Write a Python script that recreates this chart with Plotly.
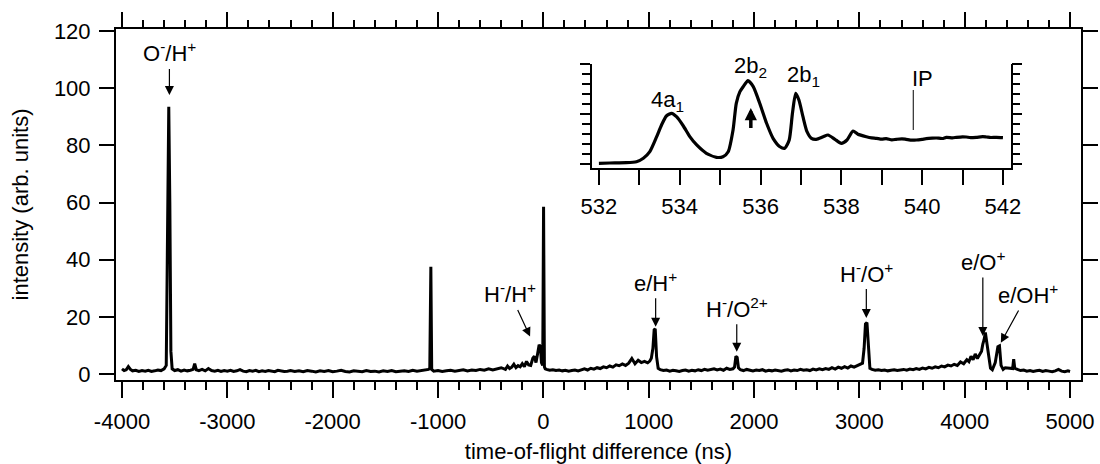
import plotly.graph_objects as go

# ---------------- main spectrum (time-of-flight difference, ns) ----------------
tof_ns = [
    -4000, -3980, -3960, -3940, -3920, -3900, -3870, -3840, -3810, -3780, -3750, -3720, -3690, -3660, -3630, -3600,
    -3580, -3568, -3556, -3546, -3536, -3524,
    -3500, -3470, -3440, -3410, -3380, -3350, -3325, -3310, -3295, -3270, -3240, -3210, -3180, -3150, -3120, -3090,
    -3060, -3030, -3000,
    -2970, -2940, -2910, -2880, -2850, -2820, -2790, -2760, -2730, -2700, -2670, -2640, -2610, -2580, -2550, -2520,
    -2490, -2460, -2430, -2400,
    -2360, -2320, -2280, -2240, -2200, -2160, -2120, -2080, -2040, -2000, -1960, -1920, -1880, -1840, -1800, -1760,
    -1720, -1680, -1640, -1600, -1560, -1520, -1480, -1440, -1400, -1360, -1320, -1280, -1240, -1200, -1160, -1120,
    -1090, -1078, -1068, -1060,
    -1040, -1000, -960, -920, -880, -840, -800, -760, -720, -680, -640, -600, -560, -520, -480, -440, -400, -360,
    -340, -320, -300, -280, -260, -240, -220, -200, -180, -160, -140, -120, -100, -85, -70, -55, -40, -28, -18, -6,
    2, 10, 18,
    30, 60, 90, 120, 150, 180, 210, 240, 270, 300, 330, 360, 390, 420, 450, 480, 510, 540, 570, 600, 630, 660, 690,
    720, 750, 780, 810, 840, 870, 900, 930, 960, 990, 1010, 1025,
    1040, 1052, 1062, 1075, 1090,
    1110, 1140, 1170, 1200, 1230, 1260, 1290, 1320, 1350, 1380, 1410, 1440, 1470, 1500, 1530, 1560, 1590, 1620, 1650,
    1680, 1710, 1740, 1770, 1800, 1815,
    1828, 1840, 1852,
    1870, 1900, 1930, 1960, 1990, 2020, 2050, 2080, 2110, 2140, 2170, 2200, 2230, 2260, 2290, 2320, 2350, 2380, 2410,
    2440, 2470, 2500, 2530, 2560, 2590, 2620, 2650, 2680, 2710, 2740, 2770, 2800, 2830, 2860, 2890, 2920, 2950, 2980,
    3010, 3030,
    3045, 3058, 3072, 3085, 3100,
    3120, 3150, 3180, 3210, 3240, 3270, 3300, 3330, 3360, 3390, 3420, 3450, 3480, 3510, 3540, 3570, 3600, 3630, 3660,
    3690, 3720, 3750, 3780, 3810, 3840, 3870, 3900, 3930, 3960, 3990, 4020, 4040, 4060, 4080, 4100, 4120, 4140, 4160,
    4172,
    4184, 4196, 4210, 4230, 4245, 4262, 4290, 4315, 4330, 4345, 4365, 4385, 4410, 4440, 4455, 4465, 4475,
    4500, 4530, 4560, 4590, 4620, 4650, 4680, 4710, 4740, 4770, 4800, 4830, 4860, 4890, 4920, 4950, 4980, 5000,
]
intensity = [
    1.8, 1.2, 1.5, 2.6, 1.6, 1.1, 1.3, 0.9, 1.2, 1.0, 1.3, 0.9, 1.1, 1.4, 1.2, 1.8,
    3.0, 45.0, 93.5, 60.0, 8.0, 1.8,
    1.2, 1.5, 1.0, 1.4, 1.1, 1.3, 1.6, 3.6, 1.5, 1.2, 1.6, 1.1, 1.9, 1.2, 1.0, 1.3,
    0.9, 1.2, 1.0,
    1.3, 0.9, 1.1, 1.5, 1.0, 0.8, 1.2, 1.0, 1.3, 0.8, 1.1, 0.9, 1.2, 1.0, 0.8, 1.3,
    1.1, 0.9, 1.0, 1.2,
    0.9, 1.1, 0.8, 1.2, 1.0, 0.7, 1.1, 0.9, 1.2, 0.8, 1.0, 1.3, 0.9, 0.7, 1.1, 1.0,
    0.8, 1.2, 0.9, 1.0, 0.7, 1.1, 0.9, 1.2, 0.8, 1.0, 1.1, 0.9, 1.3, 1.0, 1.2, 1.4,
    1.6, 2.0, 37.5, 1.6,
    1.0, 1.2, 0.9, 1.1, 1.3, 1.0, 1.2, 1.5, 1.1, 1.4, 1.2, 1.6, 1.3, 1.8, 1.4, 1.7, 2.2, 1.6,
    2.8, 1.9, 2.4, 3.4, 2.2, 2.9, 2.5, 3.6, 2.6, 4.4, 3.2, 3.0, 5.5, 6.2, 4.0, 7.0, 10.2, 9.5, 4.0, 3.0,
    58.5, 2.5, 1.8,
    1.6, 1.3, 1.5, 1.2, 1.4, 1.1, 1.3, 1.0, 1.2, 1.4, 1.1, 1.5, 1.8, 1.4, 2.0, 1.7, 2.2, 1.9, 2.5, 2.2, 2.8, 2.4, 3.2,
    2.9, 3.5, 3.0, 3.8, 5.4, 3.6, 4.8, 4.0, 4.4, 3.9, 4.5, 5.5,
    9.0, 15.5, 15.8, 6.0, 2.0,
    1.5, 1.2, 1.4, 1.0, 1.3, 1.1, 0.9, 1.2, 1.4, 1.0, 1.3, 1.1, 1.5, 1.2, 1.6, 1.3, 1.5, 1.8, 1.4,
    1.7, 1.3, 2.0, 1.6, 1.8, 2.4,
    6.2, 5.8, 2.2,
    1.5, 1.2, 1.6, 1.3, 1.1, 1.4, 1.2, 1.5, 1.0, 1.3, 1.1, 1.4, 1.2, 1.0, 1.3, 1.5, 1.1, 1.4, 1.2,
    1.6, 1.3, 1.5, 1.2, 1.7, 1.4, 1.8, 1.5, 1.9, 1.6, 2.2, 1.7, 2.4, 2.0, 2.6, 2.1, 2.8, 2.4, 2.9,
    3.3, 3.8,
    9.0, 17.5, 18.0, 9.0, 2.0,
    1.6, 1.3, 1.5, 1.2, 1.4, 1.1, 1.3, 1.5, 1.2, 1.4, 1.6, 1.3, 1.7, 1.5, 1.9, 1.6, 2.1, 1.8, 2.3,
    2.0, 2.5, 2.2, 2.8, 2.5, 3.1, 2.8, 3.4, 3.0, 4.2, 3.6, 5.0, 4.3, 6.2, 5.0, 7.0, 5.4, 6.5, 8.0,
    10.5,
    12.0, 14.5, 11.0, 4.5, 2.0, 1.5, 4.0, 9.5, 9.8, 3.0, 1.6, 2.2, 2.0, 1.8, 1.9, 5.2, 2.0,
    1.6, 1.2, 1.4, 1.0, 1.2, 0.9, 1.1, 1.3, 0.9, 1.2, 1.0, 0.8, 1.1, 1.6, 1.0, 0.8, 1.1, 0.9,
]

# ---------------- inset spectrum (photon energy, eV) ----------------
energy_eV = [
    532.0, 532.27, 532.68, 532.93, 533.1, 533.26, 533.43, 533.55, 533.67, 533.8, 533.92, 534.09, 534.25, 534.42,
    534.66, 534.91, 535.07, 535.2, 535.32, 535.4, 535.49, 535.57, 535.69, 535.82, 535.98, 536.15, 536.31, 536.48,
    536.6, 536.71, 536.79, 536.87, 536.95, 537.05, 537.15, 537.26, 537.38, 537.55, 537.67, 537.84, 538.0, 538.14,
    538.29, 538.41, 538.62, 538.75, 538.87, 539.0, 539.11, 539.25, 539.36, 539.5, 539.6, 539.75, 539.86, 540.0,
    540.1, 540.25, 540.35, 540.5, 540.6, 540.75, 540.85, 541.0, 541.09, 541.2, 541.34, 541.5, 541.59, 541.7,
    541.84, 542.0,
]
yield_au = [
    0.07, 0.10, 0.13, 0.23, 0.57, 1.23, 2.73, 3.90, 4.80, 5.07, 4.73, 3.80, 2.73, 1.90,
    1.07, 0.67, 0.73, 1.23, 3.40, 6.07, 7.23, 7.73, 8.33, 7.73, 6.07, 4.07, 2.57, 1.73,
    1.57, 2.40, 5.07, 7.07, 6.40, 4.73, 3.23, 2.57, 2.47, 2.73, 2.90, 2.47, 2.07, 2.40,
    3.30, 2.97, 2.73, 2.62, 2.57, 2.48, 2.53, 2.42, 2.47, 2.52, 2.47, 2.38, 2.40, 2.47,
    2.53, 2.58, 2.60, 2.55, 2.67, 2.62, 2.67, 2.72, 2.70, 2.64, 2.67, 2.73, 2.70, 2.65,
    2.67, 2.63,
]

x_tick_vals = [-4000, -3000, -2000, -1000, 0, 1000, 2000, 3000, 4000, 5000]
x_tick_text = ["-4000", "-3000", "-2000", "-1000", "0", "1000", "2000", "3000", "4000", "5000"]
y_tick_vals = [0, 20, 40, 60, 80, 100, 120]
inset_tick_vals = [532, 534, 536, 538, 540, 542]

# peak labels: (text, label_x, label_y, arrow_tip_x, arrow_tip_y)
main_labels = [
    ("O<sup>-</sup>/H<sup>+</sup>", -3550, 112.5, -3550, 97.6),
    ("H<sup>-</sup>/H<sup>+</sup>", -316, 28.2, -126, 13.1),
    ("e/H<sup>+</sup>", 1066, 32.3, 1066, 16.5),
    ("H<sup>-</sup>/O<sup>2+</sup>", 1836, 23.2, 1836, 7.8),
    ("H<sup>-</sup>/O<sup>+</sup>", 3066, 35.5, 3066, 19.6),
    ("e/O<sup>+</sup>", 4172, 39.5, 4172, 13.3),
    ("e/OH<sup>+</sup>", 4597, 28.0, 4343, 10.9),
]
inset_labels = [
    ("4a<sub>1</sub>", 533.70, 6.3),
    ("2b<sub>2</sub>", 535.76, 9.7),
    ("2b<sub>1</sub>", 537.07, 8.8),
    ("IP", 540.02, 8.5),
]
IP_eV = 539.78

FONT = "Liberation Sans, Arial, sans-serif"
FS = 22
X_RANGE = [-4057, 5104]
Y_RANGE = [-2.1, 120.7]
X2_RANGE = [531.83, 542.2]
Y2_RANGE = [-0.4, 10]

fig = go.Figure()
fig.add_trace(go.Scatter(x=tof_ns, y=intensity, mode="lines",
                         line=dict(color="black", width=3), xaxis="x", yaxis="y",
                         showlegend=False, hoverinfo="skip"))
fig.add_trace(go.Scatter(x=energy_eV, y=yield_au, mode="lines",
                         line=dict(color="black", width=3.2, shape="spline", smoothing=0.6),
                         xaxis="x2", yaxis="y2", showlegend=False, hoverinfo="skip"))
# invisible traces so the mirror-tick axes are drawn
fig.add_trace(go.Scatter(x=[X_RANGE[0]], y=[Y_RANGE[0]], mode="markers", marker=dict(opacity=0),
                         xaxis="x3", yaxis="y", showlegend=False, hoverinfo="skip"))
fig.add_trace(go.Scatter(x=[X2_RANGE[0]], y=[Y2_RANGE[0]], mode="markers", marker=dict(opacity=0),
                         xaxis="x2", yaxis="y3", showlegend=False, hoverinfo="skip"))

axis_common = dict(showgrid=False, zeroline=False, showline=True, linecolor="black", linewidth=2,
                   ticks="outside", tickcolor="black", tickwidth=2, automargin=False,
                   tickfont=dict(family=FONT, size=FS, color="black"))

fig.update_layout(
    template="none",
    width=1100, height=464,
    margin=dict(l=116, r=19, t=29, b=84, autoexpand=False),
    paper_bgcolor="white", plot_bgcolor="white",
    font=dict(family=FONT, size=FS, color="black"),
    xaxis=dict(**axis_common, range=X_RANGE, tickvals=x_tick_vals, ticktext=x_tick_text, ticklen=16,
               mirror=True, ticklabelstandoff=5,
               minor=dict(dtick=200, tick0=0, ticks="outside", ticklen=8, tickwidth=2, tickcolor="black"),
               title=dict(text="time-of-flight difference (ns)", font=dict(family=FONT, size=FS), standoff=13)),
    xaxis3=dict(overlaying="x", side="top", anchor="y", range=X_RANGE, showgrid=False, zeroline=False,
                showline=False, showticklabels=False, ticks="outside", tickvals=x_tick_vals, ticklen=16,
                tickwidth=2, tickcolor="black", automargin=False,
                minor=dict(dtick=200, tick0=0, ticks="outside", ticklen=8, tickwidth=2, tickcolor="black")),
    yaxis=dict(**axis_common, range=Y_RANGE, tickvals=y_tick_vals, ticklen=15,
               mirror="allticks", ticklabelstandoff=4,
               title=dict(text="intensity (arb. units)", font=dict(family=FONT, size=FS), standoff=19)),
    xaxis2=dict(**axis_common, domain=[0.4933, 0.9275], anchor="y2", range=X2_RANGE,
                tickvals=inset_tick_vals, ticklen=15, ticklabelstandoff=3,
                minor=dict(dtick=1, tick0=532, ticks="outside", ticklen=15, tickwidth=2, tickcolor="black")),
    yaxis2=dict(**axis_common, domain=[0.604, 0.9003], anchor="x2", range=Y2_RANGE,
                tickvals=[0, 5, 10], ticklen=10, mirror=True, showticklabels=False,
                minor=dict(dtick=1, tick0=0, ticks="outside", ticklen=8, tickwidth=2, tickcolor="black")),
    yaxis3=dict(overlaying="y2", side="right", anchor="x2", range=Y2_RANGE, showgrid=False, zeroline=False,
                showline=False, showticklabels=False, ticks="outside", tickvals=[0, 5, 10], ticklen=10,
                tickwidth=2, tickcolor="black", automargin=False,
                minor=dict(dtick=1, tick0=0, ticks="outside", ticklen=8, tickwidth=2, tickcolor="black")),
)

annotations = []
for text, lx, ly, hx, hy in main_labels:
    annotations.append(dict(x=hx, y=hy, ax=lx, ay=ly, xref="x", yref="y", axref="x", ayref="y",
                            text=text, showarrow=True, arrowhead=2, arrowsize=1.5, arrowwidth=1.2,
                            arrowcolor="black", standoff=0, borderpad=2,
                            font=dict(family=FONT, size=FS, color="black")))
for text, tx, ty in inset_labels:
    annotations.append(dict(x=tx, y=ty, xref="x2", yref="y2", text=text, showarrow=False,
                            font=dict(family=FONT, size=FS, color="black")))
# thick upward arrow under 2b2
annotations.append(dict(x=535.76, y=5.6, ax=535.76, ay=3.45, xref="x2", yref="y2", axref="x2", ayref="y2",
                        text="", showarrow=True, arrowhead=2, arrowsize=0.7, arrowwidth=3.5,
                        arrowcolor="black", standoff=0))
fig.update_layout(annotations=annotations)

fig.add_shape(type="line", xref="x2", yref="y2", x0=IP_eV, x1=IP_eV, y0=3.4, y1=7.4,
              line=dict(color="black", width=1))

# remove the browser's default 8px page margin so the figure sits at the window origin
fig.write_html("out.html", config={"displayModeBar": False},
               post_script="document.body.style.margin='0';document.body.style.padding='0';")
